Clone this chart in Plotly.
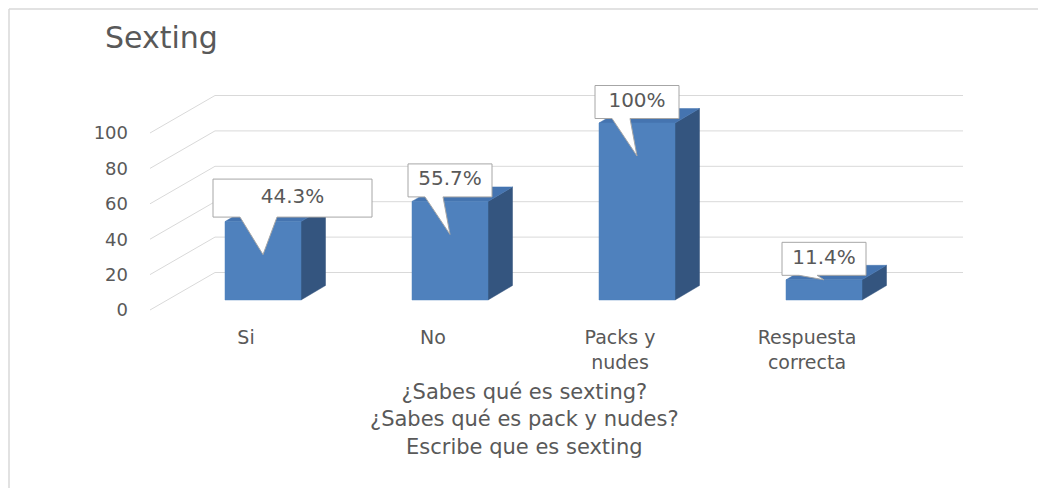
import plotly.graph_objects as go

# datos
categorias = ["Si", "No", "Packs y<br>nudes", "Respuesta<br>correcta"]
valores = [44.3, 55.7, 100, 11.4]
ticks_y = [0, 20, 40, 60, 80, 100]
titulo_x = [
    "¿Sabes qué es sexting?",
    "¿Sabes qué es pack y nudes?",
    "Escribe que es sexting",
]

FONT = "DejaVu Sans"
GRIS = "#595959"
W, H = 1046, 488
OFF = 8  # page margin around the plot div

# geometry of the fake 3D view (page pixels)
PLOT_L, PLOT_R, PLOT_T, PLOT_B = 150, 1000, 60, 324
CAT_PX = 187      # distance between bars
X0_PX = 263       # centre of first bar
UNIT_PX = 1.77    # pixels per value unit
Y0_PX = 310       # front zero line


def px_x(d):
    return d / CAT_PX


def px_y(d):
    return d / UNIT_PX


x_range = [(PLOT_L - X0_PX) / CAT_PX, (PLOT_R - X0_PX) / CAT_PX]
y_range = [(Y0_PX - PLOT_B) / UNIT_PX, (Y0_PX - PLOT_T) / UNIT_PX]
pw, ph = PLOT_R - PLOT_L, PLOT_B - PLOT_T

fig = go.Figure()

# gridlines: slanted floor part + back wall part
wall_dx, wall_dy = px_x(65), px_y(37.5)
x_front = x_range[0]
x_end = (963 - X0_PX) / CAT_PX
gx, gy = [], []
for t in ticks_y:
    gx += [x_front, x_front + wall_dx, x_end, None]
    gy += [t, t + wall_dy, t + wall_dy, None]
fig.add_trace(
    go.Scatter(x=gx, y=gy, mode="lines", line=dict(color="#d9d9d9", width=1),
               hoverinfo="skip")
)

# bars
hw = px_x(38)
base = px_y(10)
ddx, ddy = px_x(24.5), px_y(14.5)
fx, fy, sx, sy, tx, ty = [], [], [], [], [], []
for i, v in enumerate(valores):
    top = base + v
    fx += [i - hw, i + hw, i + hw, i - hw, i - hw, None]
    fy += [base, base, top, top, base, None]
    sx += [i + hw, i + hw + ddx, i + hw + ddx, i + hw, i + hw, None]
    sy += [base, base + ddy, top + ddy, top, base, None]
    tx += [i - hw, i + hw, i + hw + ddx, i - hw + ddx, i - hw, None]
    ty += [top, top, top + ddy, top + ddy, top, None]

for xs, ys, col in [(sx, sy, "#34557f"), (tx, ty, "#4574b0"), (fx, fy, "#4f81bd")]:
    fig.add_trace(
        go.Scatter(x=xs, y=ys, mode="lines", fill="toself", fillcolor=col,
                   line=dict(color=col, width=0.5), hoverinfo="skip")
    )

# callouts (box + wedge pointing into the bar)
box_w = {0: 159}
box_h = {0: 38}
box_dx = {0: 29.5}
wedge = {0: (-23, 14)}
cx, cy, lx, ly, txt = [], [], [], [], []
for i, v in enumerate(valores):
    top = base + v
    tip_y = top - (px_y(33) if v > 30 else 0)
    bw = px_x(box_w.get(i, 84)) / 2
    bh = px_y(box_h.get(i, 33))
    bc = i + px_x(box_dx.get(i, 0))
    b0 = top + px_y(4.5)
    w0, w1 = wedge.get(i, (-25, -7))
    cx += [bc - bw, i + px_x(w0), i, i + px_x(w1), bc + bw, bc + bw, bc - bw, bc - bw, None]
    cy += [b0, b0, tip_y, b0, b0, b0 + bh, b0 + bh, b0, None]
    lx.append(bc)
    ly.append(b0 + bh / 2)
    txt.append(f"{v:g}%")

fig.add_trace(
    go.Scatter(x=cx, y=cy, mode="lines", fill="toself", fillcolor="white",
               line=dict(color="#a6a6a6", width=1), hoverinfo="skip")
)
fig.add_trace(
    go.Scatter(x=lx, y=ly, mode="text", text=txt,
               textfont=dict(family=FONT, size=20, color=GRIS), hoverinfo="skip")
)

# axis title (centred under the bars, not under the whole plot area)
fig.add_annotation(
    text="<br>".join(titulo_x), xref="paper", yref="paper",
    x=(524 - PLOT_L) / pw, y=(PLOT_B - 378) / ph, xanchor="center", yanchor="top",
    showarrow=False, align="center",
    font=dict(family=FONT, size=21, color=GRIS),
)

# thin frame at the left and top edges of the figure
fx0 = (1 - (PLOT_L - OFF)) / pw
fy0 = ((PLOT_B - OFF) - 1) / ph
fig.add_shape(type="line", xref="paper", yref="paper",
              x0=fx0, x1=fx0, y0=fy0, y1=((PLOT_B - OFF) - (H - OFF)) / ph,
              line=dict(color="#d9d9d9", width=1.5))
fig.add_shape(type="line", xref="paper", yref="paper",
              x0=fx0, x1=((W - OFF) - (PLOT_L - OFF)) / pw, y0=fy0, y1=fy0,
              line=dict(color="#d9d9d9", width=1.5))

fig.update_layout(
    width=W - OFF,
    height=H - OFF,
    margin=dict(l=PLOT_L - OFF, r=W - PLOT_R, t=PLOT_T - OFF, b=H - PLOT_B),
    paper_bgcolor="white",
    plot_bgcolor="white",
    showlegend=False,
    hovermode=False,
    title=dict(text="Sexting", x=(105 - OFF) / (W - OFF), xanchor="left",
               xref="container", y=1 - (37 - OFF) / (H - OFF), yanchor="middle",
               yref="container", font=dict(family=FONT, size=30, color=GRIS)),
)
fig.update_xaxes(
    range=x_range,
    tickvals=[i - px_x(17) for i in range(len(categorias))],
    ticktext=categorias,
    tickfont=dict(family=FONT, size=19, color=GRIS),
    showgrid=False, zeroline=False, showline=False, ticks="",
)
fig.update_yaxes(
    range=y_range,
    tickvals=ticks_y,
    tickfont=dict(family=FONT, size=18, color=GRIS),
    showgrid=False, zeroline=False, showline=False, ticks="",
    ticklabelstandoff=21,
)

fig.write_html("out.html")
